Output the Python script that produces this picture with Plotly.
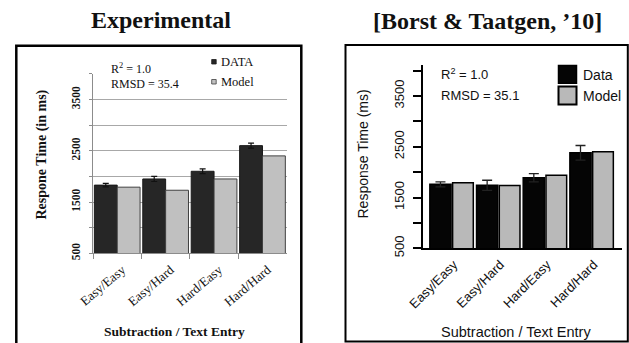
import plotly.graph_objects as go

# ---- data -------------------------------------------------------------
conditions = ["Easy/Easy", "Easy/Hard", "Hard/Easy", "Hard/Hard"]

exp_data = [1830, 1950, 2100, 2600]
exp_data_err = [35, 50, 45, 50]
exp_model = [1790, 1730, 1950, 2400]

bt_data = [1760, 1740, 1890, 2380]
bt_data_err = [50, 100, 80, 145]
bt_model = [1790, 1735, 1940, 2400]

y_label_ticks = [500, 1500, 2500, 3500]
y_minor_step = 500

# ---- canvas helpers ---------------------------------------------------
W, H = 629, 343


def px(x):
    return x / W


def py(y):
    return 1 - y / H


SERIF = "Liberation Serif"
SANS = "Liberation Sans"
INK = "#111111"

fig = go.Figure()

# ---- left panel: experimental data vs model ---------------------------
fig.add_trace(go.Bar(
    x=conditions, y=exp_data, name="DATA", xaxis="x", yaxis="y",
    width=0.472, offset=-0.472,
    marker=dict(color="#262626", line=dict(color="#1a1a1a", width=1)),
    error_y=dict(type="data", array=exp_data_err, color="#111111",
                 thickness=1.2, width=3),
    showlegend=False,
))
fig.add_trace(go.Bar(
    x=conditions, y=exp_model, name="Model", xaxis="x", yaxis="y",
    width=0.472, offset=0.0,
    marker=dict(color="#c0c0c0", line=dict(color="#404040", width=1)),
    showlegend=False,
))

# ---- right panel: Borst & Taatgen data vs model -----------------------
fig.add_trace(go.Bar(
    x=conditions, y=bt_data, name="Data", xaxis="x2", yaxis="y2",
    width=0.455, offset=-0.467,
    marker=dict(color="#050505", line=dict(color="#000000", width=1.5)),
    error_y=dict(type="data", array=bt_data_err, color="#222222",
                 thickness=1.3, width=5),
    showlegend=False,
))
fig.add_trace(go.Bar(
    x=conditions, y=bt_model, name="Model", xaxis="x2", yaxis="y2",
    width=0.443, offset=0.021,
    marker=dict(color="#b9b9b9", line=dict(color="#000000", width=1.5)),
    showlegend=False,
))

# ---- axes ---------------------------------------------------------------
fig.update_layout(
    template="none",
    xaxis=dict(
        domain=[px(93), px(286.7)], anchor="y", type="category",
        automargin=False,
        range=[-0.5, 3.5], showline=True, linecolor="#8c8c8c", linewidth=1,
        ticks="outside", tickson="boundaries", ticklen=5, tickcolor="#8c8c8c",
        tickangle=-40, tickfont=dict(family=SERIF, size=13, color=INK),
        ticklabelstandoff=3, ticklabelshift=5,
        showgrid=False, zeroline=False, fixedrange=True,
    ),
    yaxis=dict(
        domain=[py(253.3), py(73.6)], anchor="x", range=[500, 4005],
        automargin=False,
        tickmode="array", tickvals=y_label_ticks, tickangle=-90,
        tickfont=dict(family=SERIF, size=11.5, color=INK, weight="bold"),
        ticklabelstandoff=4,
        showgrid=True, gridcolor="#a8a8a8", gridwidth=1,
        showline=True, linecolor="#8c8c8c", linewidth=1,
        ticks="outside", ticklen=3, tickcolor="#8c8c8c",
        minor=dict(tick0=0, dtick=y_minor_step, ticks="outside", ticklen=3,
                   tickcolor="#8c8c8c", showgrid=True, gridcolor="#a8a8a8",
                   gridwidth=1),
        zeroline=False, fixedrange=True,
    ),
    xaxis2=dict(
        domain=[px(423.3), px(621.7)], anchor="y2", type="category",
        automargin=False,
        range=[-0.607, 3.643], showline=True, linecolor="#000000",
        linewidth=1.5, ticks="", tickangle=-45,
        tickfont=dict(family=SANS, size=13, color=INK),
        ticklabelstandoff=2, ticklabelshift=2,
        showgrid=False, zeroline=False, fixedrange=True,
    ),
    yaxis2=dict(
        domain=[py(248.3), py(65)], anchor="x2", range=[500, 4110],
        automargin=False,
        tickmode="array", tickvals=y_label_ticks, tickangle=-90,
        tickfont=dict(family=SANS, size=13, color=INK),
        ticklabelstandoff=3,
        showgrid=False, showline=True, linecolor="#000000", linewidth=1.5,
        ticks="outside", ticklen=9, tickwidth=1.5, tickcolor="#000000",
        minor=dict(tick0=0, dtick=y_minor_step, ticks="outside", ticklen=9,
                   tickwidth=1.5, tickcolor="#000000", showgrid=False),
        zeroline=False, fixedrange=True,
    ),
)

# ---- frames, legend swatches and gridline breaks ----------------------
shapes = [
    # panel frames
    dict(type="rect", xref="paper", yref="paper",
         x0=px(16.3), x1=px(301.3), y0=py(45.8), y1=py(352),
         line=dict(color="#000000", width=2.5), fillcolor="rgba(0,0,0,0)"),
    dict(type="rect", xref="paper", yref="paper",
         x0=px(345.5), x1=px(627.8), y0=py(45), y1=py(341.5),
         line=dict(color="#000000", width=2), fillcolor="rgba(0,0,0,0)"),
    # white breaks in the top gridline behind the text blocks
    dict(type="rect", xref="paper", yref="paper", layer="above",
         x0=px(100), x1=px(193), y0=py(71), y1=py(79),
         line=dict(width=0), fillcolor="#ffffff"),
    dict(type="rect", xref="paper", yref="paper", layer="above",
         x0=px(209), x1=px(257), y0=py(71), y1=py(79),
         line=dict(width=0), fillcolor="#ffffff"),
    # left legend swatches
    dict(type="rect", xref="paper", yref="paper", layer="above",
         x0=px(211.7), x1=px(216.2), y0=py(64), y1=py(59.5),
         line=dict(color="#1a1a1a", width=0.8), fillcolor="#262626"),
    dict(type="rect", xref="paper", yref="paper", layer="above",
         x0=px(211.7), x1=px(216.2), y0=py(84), y1=py(79.5),
         line=dict(color="#404040", width=0.8), fillcolor="#c0c0c0"),
    # right legend swatches
    dict(type="rect", xref="paper", yref="paper", layer="above",
         x0=px(558.5), x1=px(576.5), y0=py(83.3), y1=py(65.5),
         line=dict(color="#000000", width=1.5), fillcolor="#050505"),
    dict(type="rect", xref="paper", yref="paper", layer="above",
         x0=px(558.5), x1=px(576.5), y0=py(104.5), y1=py(86.5),
         line=dict(color="#000000", width=2), fillcolor="#b9b9b9"),
]


def label(text, x, y, family, size, bold=False, angle=0,
          xanchor="center", yanchor="middle"):
    return dict(
        text=text, x=px(x), y=py(y), xref="paper", yref="paper",
        showarrow=False, textangle=angle, xanchor=xanchor, yanchor=yanchor,
        font=dict(family=family, size=size, color=INK,
                  weight="bold" if bold else "normal"),
    )


annotations = [
    # panel titles
    label("Experimental", 160.5, 20, SERIF, 24, bold=True),
    label("[Borst &amp; Taatgen, \u201910]", 487, 20.5, SERIF, 24, bold=True),
    # left panel texts
    label("Respone Time (in ms)", 41.5, 155, SERIF, 14, bold=True, angle=-90),
    label("Subtraction / Text Entry", 174.5, 331, SERIF, 13.5, bold=True),
    label("R<sup>2</sup> = 1.0", 109, 68, SERIF, 12, xanchor="left"),
    label("RMSD = 35.4", 109, 83.5, SERIF, 12, xanchor="left"),
    label("DATA", 218.5, 62, SERIF, 12.5, xanchor="left"),
    label("Model", 218.5, 82, SERIF, 12.5, xanchor="left"),
    # right panel texts
    label("Response Time (ms)", 362.5, 154, SANS, 14, angle=-90),
    label("Subtraction / Text Entry", 516, 332, SANS, 14.5),
    label("R<sup>2</sup> = 1.0", 438.5, 74, SANS, 13, xanchor="left"),
    label("RMSD = 35.1", 438.5, 95, SANS, 13, xanchor="left"),
    label("Data", 581, 75, SANS, 14, xanchor="left"),
    label("Model", 581, 96, SANS, 14, xanchor="left"),
]

fig.update_layout(
    width=W, height=H, autosize=False,
    margin=dict(l=0, r=0, t=0, b=0, pad=0, autoexpand=False),
    paper_bgcolor="#ffffff", plot_bgcolor="#ffffff",
    barmode="group", shapes=shapes, annotations=annotations,
    showlegend=False,
)

fig.write_html("out.html", config={"displayModeBar": False})
